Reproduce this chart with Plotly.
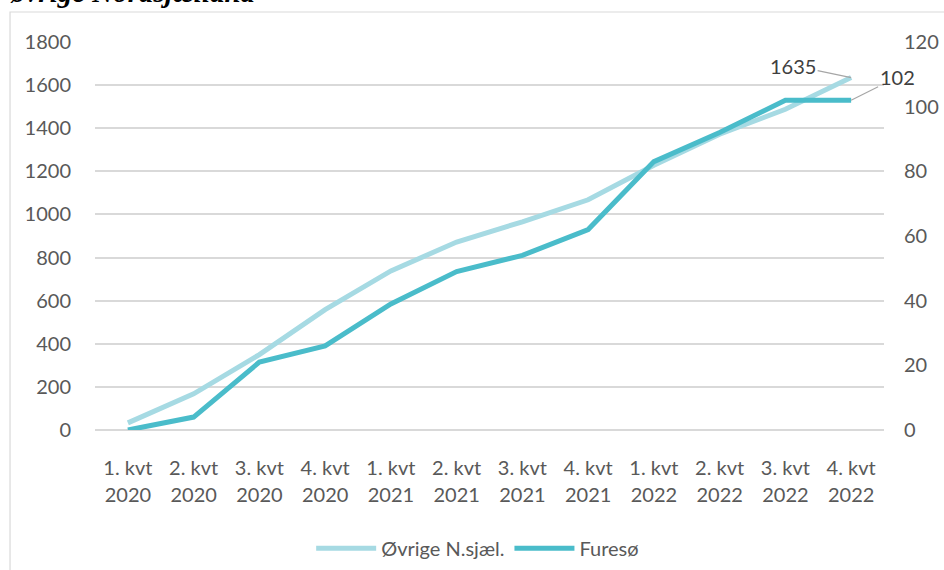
import plotly.graph_objects as go

quarters = ["1. kvt", "2. kvt", "3. kvt", "4. kvt",
            "1. kvt", "2. kvt", "3. kvt", "4. kvt",
            "1. kvt", "2. kvt", "3. kvt", "4. kvt"]
years = ["2020", "2020", "2020", "2020",
         "2021", "2021", "2021", "2021",
         "2022", "2022", "2022", "2022"]
ovrige = [33, 168, 350, 558, 738, 872, 966, 1068, 1228, 1372, 1488, 1635]
fureso = [0, 4, 21, 26, 39, 49, 54, 62, 83, 92, 102, 102]
left_ticks = [0, 200, 400, 600, 800, 1000, 1200, 1400, 1600, 1800]
right_ticks = [0, 20, 40, 60, 80, 100, 120]

title_text = "øvrige Nordsjælland"
name_ovrige = "Øvrige N.sjæl."
name_fureso = "Furesø"

pos = list(range(len(quarters)))

FONT = "Lato"
FS = 20
TICK_COLOR = "#595959"
C_LIGHT = "#A6DAE3"
C_DARK = "#4ABCCA"

fig = go.Figure()
fig.add_trace(go.Scatter(x=pos, y=ovrige, name=name_ovrige, mode="lines",
                         line=dict(color=C_LIGHT, width=5), xaxis="x", yaxis="y"))
fig.add_trace(go.Scatter(x=pos, y=fureso, name=name_fureso, mode="lines",
                         line=dict(color=C_DARK, width=5), xaxis="x", yaxis="y2"))
# carrier for the second row of category labels (years)
fig.add_trace(go.Scatter(x=pos, y=[None] * len(pos), xaxis="x2", yaxis="y",
                         mode="lines", showlegend=False, hoverinfo="skip"))

fig.add_annotation(x=pos[-1], y=ovrige[-1], xref="x", yref="y", text=str(ovrige[-1]),
                   showarrow=True, arrowhead=0, arrowwidth=1.2, arrowcolor="#A6A6A6",
                   ax=-58, ay=-12, font=dict(family=FONT, size=FS, color="#404040"))
fig.add_annotation(x=pos[-1], y=fureso[-1], xref="x", yref="y2", text=str(fureso[-1]),
                   showarrow=True, arrowhead=0, arrowwidth=1.2, arrowcolor="#A6A6A6",
                   ax=46, ay=-23, font=dict(family=FONT, size=FS, color="#404040"))

fig.add_annotation(x=-0.1103, y=1.0818, xref="paper", yref="paper", text="<b><i>" + title_text + "</i></b>",
                   showarrow=False, xanchor="left", yanchor="bottom",
                   font=dict(family="Liberation Serif", size=29, color="#000000"))

fig.add_shape(type="rect", xref="paper", yref="paper", x0=-0.1077, y0=-0.4, x1=1.1, y1=1.0773,
              line=dict(color="#D9D9D9", width=1.2), fillcolor="rgba(0,0,0,0)", layer="below")

fig.update_layout(
    width=944, height=570,
    margin=dict(l=95, r=60, t=42, b=140, autoexpand=False),
    paper_bgcolor="white", plot_bgcolor="white",
    font=dict(family=FONT, size=FS, color=TICK_COLOR),
    showlegend=True,
    legend=dict(orientation="h", x=0.485, xanchor="center", y=-0.305, yanchor="middle",
                font=dict(family=FONT, size=FS, color=TICK_COLOR), itemwidth=60),
    xaxis=dict(range=[-0.5, len(pos) - 0.5], tickmode="array", tickvals=pos, ticktext=quarters,
               showgrid=False, zeroline=False, showline=False, ticks="", ticklabelstandoff=24,
               automargin=False),
    xaxis2=dict(range=[-0.5, len(pos) - 0.5], tickmode="array", tickvals=pos, ticktext=years,
                overlaying="x", anchor="y", side="bottom", automargin=False,
                showgrid=False, zeroline=False, showline=False, ticks="", ticklabelstandoff=51),
    yaxis=dict(range=[0, 1800], tickmode="array", tickvals=left_ticks, automargin=False,
               showgrid=True, gridcolor="#D9D9D9", gridwidth=1.5,
               zeroline=True, zerolinecolor="#D9D9D9", zerolinewidth=1.5,
               showline=False, ticks="", ticklabelstandoff=23),
    yaxis2=dict(range=[0, 120], tickmode="array", tickvals=right_ticks, overlaying="y", side="right",
                automargin=False, showgrid=False, zeroline=False, showline=False, ticks="",
                ticklabelstandoff=19),
)

fig.write_html("out.html", config={"displayModeBar": False},
               post_script="document.body.style.margin='0px';")
